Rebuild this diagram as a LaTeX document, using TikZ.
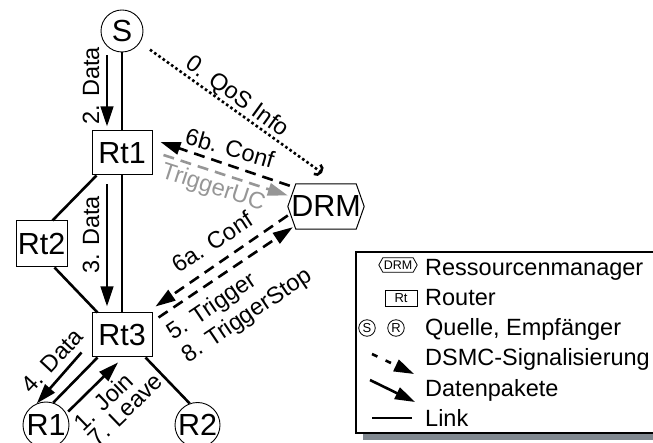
\documentclass[tikz,border=0pt]{standalone}
\usepackage{fontspec}
\setmainfont{Liberation Sans}
\usetikzlibrary{arrows.meta,calc}
\definecolor{shadowgray}{RGB}{128,136,144}
\definecolor{trigGray}{RGB}{150,150,150}
\tikzset{
  nodefont/.style={font=\fontsize{30.5}{33}\selectfont},
  lbl/.style={font=\fontsize{23.5}{26}\selectfont, inner sep=0pt},
  legtext/.style={font=\fontsize{23.5}{26}\selectfont, anchor=base west, inner sep=0pt},
  router/.style={draw, line width=1pt, rectangle, minimum width=60pt, minimum height=44pt, inner sep=0pt, nodefont},
  host/.style={draw, line width=0.9pt, circle, inner sep=0pt, nodefont},
  minihost/.style={draw, circle, line width=0.8pt, minimum size=16.5pt, inner sep=0pt, font=\fontsize{13}{13}\selectfont},
  link/.style={line width=2.6pt},
  headtip/.style={-{Triangle[length=20pt,width=12.5pt]}},
  datapkt/.style={line width=2.6pt, headtip},
  sigarrow/.style={line width=2.6pt, dash pattern=on 11pt off 7pt, headtip},
  qos/.style={line width=2.6pt, dash pattern=on 2.6pt off 2.6pt, -{Arc Barb[length=6pt,width=14pt]}},
}
\begin{document}
\begin{tikzpicture}[x=1pt,y=-1pt]
\clip (0,0) rectangle (653,443);
% nodes
\node[host, minimum size=42pt] (S) at (122,31) {S};
\node[router] (Rt1) at (122,153) {Rt1};
\node[router, minimum width=51pt, minimum height=46pt] (Rt2) at (41.5,244) {Rt2};
\node[router] (Rt3) at (122,335) {Rt3};
\node[host, minimum size=46pt] (R1) at (46,425) {R1};
\node[host, minimum size=45pt] (R2) at (197.5,425) {R2};
\node[nodefont, minimum width=76pt, minimum height=45pt, inner sep=0pt] (DRM) at (326,206.5) {DRM};
\draw[line width=1pt] (DRM.west) -- ([xshift=8pt]DRM.north west) -- ([xshift=-8pt]DRM.north east) -- (DRM.east) -- ([xshift=-8pt]DRM.south east) -- ([xshift=8pt]DRM.south west) -- cycle;
% links
\draw[link] (S) -- (Rt1);
\draw[link] (Rt1) -- (Rt3);
\draw[link] ([xshift=5pt]Rt1.south west) -- ([xshift=11pt]Rt2.north);
\draw[link] ([xshift=13pt]Rt2.south) -- ([xshift=6pt]Rt3.north west);
\draw[link] ([xshift=6pt]Rt3.south west) -- (R1.72);
\draw[link] ([xshift=-7pt]Rt3.south east) -- (R2.110);
% data packets
\draw[datapkt] ([xshift=-15pt,yshift=-3pt]S.south) -- ([xshift=-15pt,yshift=4pt]Rt1.north);
\draw[datapkt] ([xshift=-15pt,yshift=-9pt]Rt1.south) -- ([xshift=-15pt,yshift=6pt]Rt3.north);
\draw[datapkt] ([xshift=-10pt,yshift=5pt]Rt3.south west) -- (R1.113);
\draw[datapkt] ([xshift=3pt]R1.35) -- ([xshift=-4pt,yshift=-5pt]Rt3.south);
% signalling
\draw[qos] ([xshift=10pt,yshift=-7pt]S.-33) -- ([xshift=-4pt,yshift=11pt]DRM.north);
\draw[sigarrow] ([xshift=2pt,yshift=-2pt]DRM.north west) -- ([xshift=8pt,yshift=11pt]Rt1.east);
\draw[sigarrow, trigGray] ([xshift=11pt,yshift=-2pt]Rt1.east) -- ([yshift=11pt]DRM.west);
\draw[sigarrow] ([yshift=-9pt]DRM.west) -- ([xshift=3pt,yshift=6pt]Rt3.north east);
\draw[sigarrow] ([xshift=6pt,yshift=-5pt]Rt3.north east) -- ([xshift=5pt,yshift=2pt]DRM.south west);
% labels
\node[lbl, rotate=90] (l2) at (91,86) {2. Data};
\node[lbl, rotate=90] (l3) at (91,235) {3. Data};
\node[lbl, rotate=47] (l4) at (52,361) {4. Data};
\node[lbl, rotate=44, align=left, font=\fontsize{23.5}{21}\selectfont] (l1) at (118,402) {1. Join\\7. Leave};
\node[lbl, rotate=-36] (l0) at (237,97) {0. QoS Info};
\node[lbl, rotate=-16] (l6b) at (230,148) {6b. Conf};
\node[lbl, rotate=-18, text=trigGray] (lTU) at (213,188) {TriggerUC};
\node[lbl, rotate=33] (l6a) at (212,242) {6a. Conf};
\node[lbl, rotate=34, align=left, font=\fontsize{23.5}{27}\selectfont] (l5) at (240,305) {5. Trigger\\8. TriggerStop};
% legend
\fill[shadowgray] (363,433) rectangle (660,440);
\draw[line width=1.2pt, fill=white] (356,252) rectangle (660,433);
\node[font=\fontsize{12.5}{12.5}\selectfont, minimum width=38pt, minimum height=14pt, inner sep=0pt] (legDRM) at (398,265) {DRM};
\draw[line width=0.8pt] (legDRM.west) -- ([xshift=4pt]legDRM.north west) -- ([xshift=-4pt]legDRM.north east) -- (legDRM.east) -- ([xshift=-4pt]legDRM.south east) -- ([xshift=4pt]legDRM.south west) -- cycle;
\node[draw, line width=0.8pt, minimum width=32pt, minimum height=16pt, inner sep=0pt, font=\fontsize{13}{13}\selectfont] (legRt) at (401,298) {Rt};
\node[minihost] (legS) at (367,328) {S};
\node[minihost] (legR) at (396,328) {R};
\coordinate (dsA) at (372,354);
\coordinate (dsB) at (414,374);
\draw[sigarrow, dash pattern=on 6pt off 9pt] (dsA) -- (dsB);
\coordinate (dpA) at (370,380);
\coordinate (dpB) at (415,402);
\draw[datapkt] (dpA) -- (dpB);
\coordinate (lkA) at (372,418);
\coordinate (lkB) at (412,418);
\draw[link] (lkA) -- (lkB);
\node[legtext] (t1) at (425,276) {Ressourcenmanager};
\node[legtext] (t2) at (425,306) {Router};
\node[legtext] (t3) at (425,336) {Quelle, Empfänger};
\node[legtext] (t4) at (425,366) {DSMC-Signalisierung};
\node[legtext] (t5) at (425,396) {Datenpakete};
\node[legtext] (t6) at (425,426) {Link};
\end{tikzpicture}
\end{document}
